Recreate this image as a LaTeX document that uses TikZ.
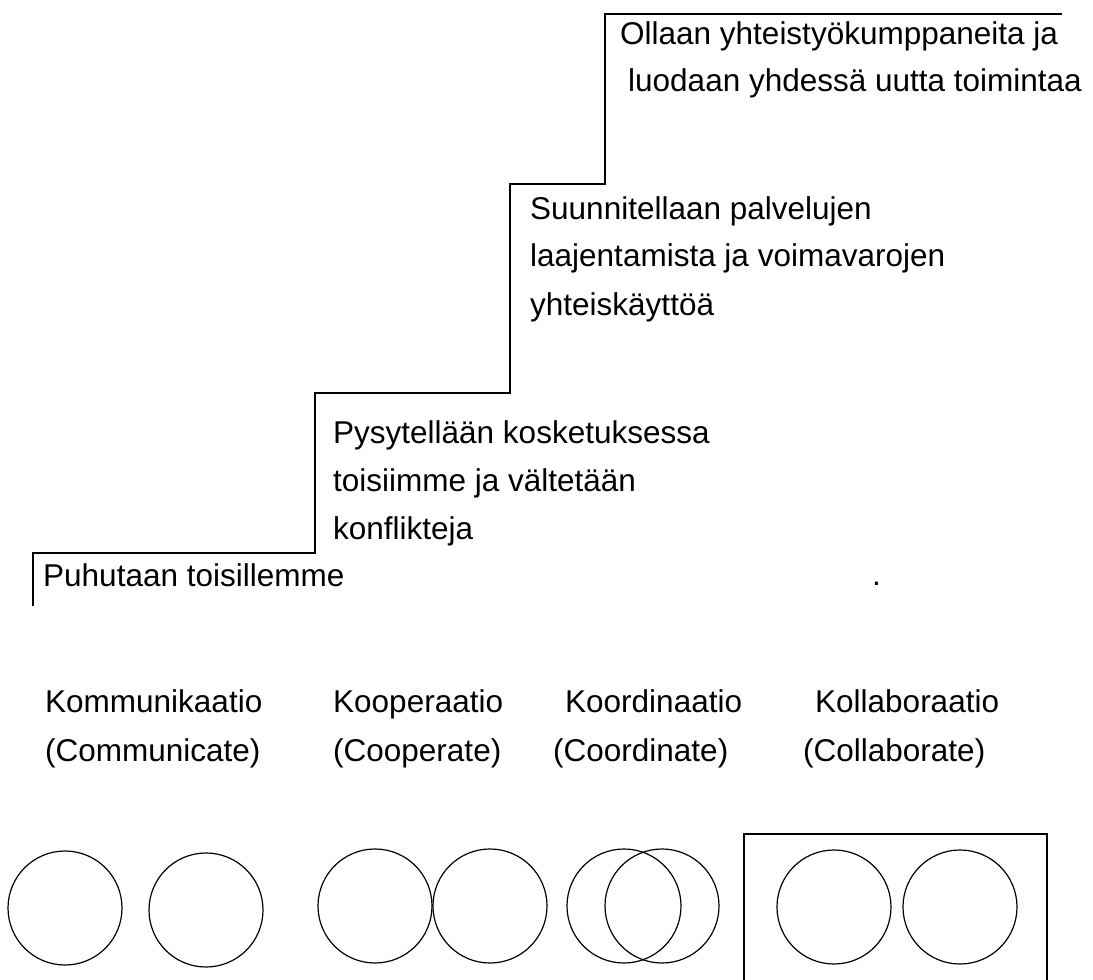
\documentclass[tikz,border=0pt]{standalone}
\usepackage{fontspec}
\setmainfont{Liberation Sans}
\begin{document}
\begin{tikzpicture}[x=1pt,y=-1pt,
  txt/.style={font=\fontsize{31.5}{37}\selectfont, anchor=base west, inner sep=0pt},
  stair/.style={line width=2pt, line join=miter},
  ring/.style={circle, draw, line width=1.2pt, minimum size=114pt, inner sep=0pt},
  frame/.style={line width=2.6pt}]
\useasboundingbox (0,0) rectangle (1093,980);
% staircase
\coordinate (p0) at (33,606);
\coordinate (p1) at (33,553);
\coordinate (p2) at (315,553);
\coordinate (p3) at (315,393);
\coordinate (p4) at (510,393);
\coordinate (p5) at (510,184);
\coordinate (p6) at (605,184);
\coordinate (p7) at (605,14);
\coordinate (p8) at (1062,14);
\draw[stair] (p0) -- (p1) -- (p2) -- (p3) -- (p4) -- (p5) -- (p6) -- (p7) -- (p8);
% step texts
\node[txt] (t4a) at (620,44) {Ollaan yhteistyökumppaneita ja};
\node[txt] (t4b) at (628,91) {luodaan yhdessä uutta toimintaa};
\node[txt] (t3a) at (530,219) {Suunnitellaan palvelujen};
\node[txt] (t3b) at (530,266) {laajentamista ja voimavarojen};
\node[txt] (t3c) at (530,315) {yhteiskäyttöä};
\node[txt] (t2a) at (333,443) {Pysytellään kosketuksessa};
\node[txt] (t2b) at (333,491) {toisiimme ja vältetään};
\node[txt] (t2c) at (333,539) {konflikteja};
\node[txt] (t1a) at (43,586) {Puhutaan toisillemme};
\node[txt] (dot) at (872,585) {.};
% labels
\node[txt] (l1a) at (45,712) {Kommunikaatio};
\node[txt] (l1b) at (45,761) {(Communicate)};
\node[txt] (l2a) at (333,712) {Kooperaatio};
\node[txt] (l2b) at (333,761) {(Cooperate)};
\node[txt] (l3a) at (565,712) {Koordinaatio};
\node[txt] (l3b) at (553,761) {(Coordinate)};
\node[txt] (l4a) at (815,712) {Kollaboraatio};
\node[txt] (l4b) at (803,761) {(Collaborate)};
% circles
\node[ring] (c1) at (65,908) {};
\node[ring] (c2) at (206,910) {};
\node[ring] (c3) at (375,906) {};
\node[ring] (c4) at (490,906) {};
\node[ring] (c5) at (624,906) {};
\node[ring] (c6) at (662,906) {};
\node[ring] (c7) at (834,907) {};
\node[ring] (c8) at (960,907) {};
% frame
\coordinate (f0) at (744,982);
\coordinate (f1) at (744,834);
\coordinate (f2) at (1047,834);
\coordinate (f3) at (1047,982);
\draw[frame] (f0) -- (f1) -- (f2) -- (f3);
\end{tikzpicture}
\end{document}
